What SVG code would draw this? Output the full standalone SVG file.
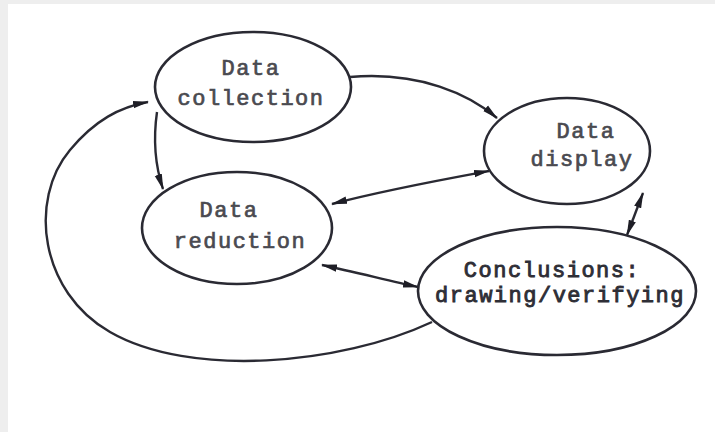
<svg xmlns="http://www.w3.org/2000/svg" width="715" height="432" viewBox="0 0 715 432">
  <defs>
    <style>
      .node ellipse { fill: #ffffff; stroke: #2a2a33; stroke-width: 2.6; }
      .node text { font-family: "Liberation Mono", "DejaVu Sans Mono", monospace; font-size: 22px; letter-spacing: 1.5px; fill: #4a4a50; stroke: #4a4a50; stroke-width: 0.7; text-anchor: middle; }
      #conclusions text { fill: #2e2e36; stroke: #2e2e36; stroke-width: 0.9; }
      .edge { fill: none; stroke: #2a2a33; stroke-width: 2.4; }
    </style>
    <marker id="head" viewBox="0 0 16 9" refX="15" refY="4.5" markerWidth="16" markerHeight="9" markerUnits="userSpaceOnUse" orient="auto-start-reverse">
      <path d="M0,0.8 L16,4.5 L0,8.2 Z" fill="#1e1e26"/>
    </marker>
  </defs>

  <!-- page frame -->
  <rect x="0" y="0" width="715" height="432" fill="#eeeeee"/>
  <rect x="8" y="4" width="707" height="428" fill="#ffffff"/>

  <!-- connectors -->
  <g id="connectors">
    <path class="edge" d="M350,77 C420,71 470,95 497,118" marker-end="url(#head)"/>
    <path class="edge" d="M157,112 C153,140 155,165 163,189" marker-end="url(#head)"/>
    <path class="edge" d="M432,322 C340,365 190,378 110,332 C40,292 28,200 70,150 C95,120 120,107 148,102" marker-end="url(#head)"/>
    <path class="edge" d="M332,204 C385,190 440,180 489,171" marker-start="url(#head)" marker-end="url(#head)"/>
    <path class="edge" d="M322,265 C355,272 390,281 418,287" marker-start="url(#head)" marker-end="url(#head)"/>
    <path class="edge" d="M643,193 L627,235" marker-start="url(#head)" marker-end="url(#head)"/>
  </g>

  <g id="collection" class="node">
    <ellipse cx="253" cy="87" rx="98" ry="55"/>
    <text x="251" y="75">Data</text>
    <text x="251" y="105">collection</text>
  </g>

  <g id="display" class="node">
    <ellipse cx="567" cy="151" rx="83" ry="53"/>
    <text x="586" y="138">Data</text>
    <text x="582" y="166">display</text>
  </g>

  <g id="reduction" class="node">
    <ellipse cx="237" cy="228" rx="95" ry="56"/>
    <text x="229" y="217">Data</text>
    <text x="240" y="248">reduction</text>
  </g>

  <g id="conclusions" class="node">
    <ellipse cx="557" cy="291" rx="139" ry="64"/>
    <text x="552" y="277">Conclusions:</text>
    <text x="560" y="302">drawing/verifying</text>
  </g>
</svg>
